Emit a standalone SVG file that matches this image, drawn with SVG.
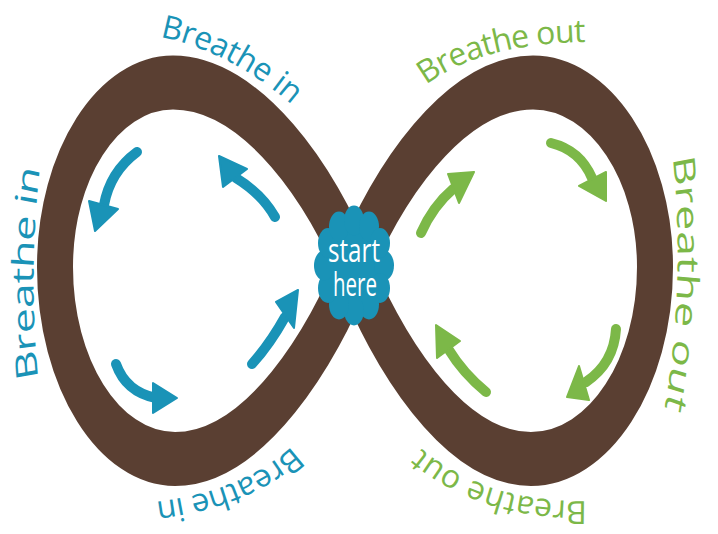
<svg xmlns="http://www.w3.org/2000/svg" xmlns:xlink="http://www.w3.org/1999/xlink" width="718" height="534" viewBox="0 0 718 534">
  <style>
    .band { fill: none; stroke: #5a3f32; stroke-width: 36; stroke-linejoin: round; }
    .cloud { fill: #1a93b7; }
    .lbl { font-family: "Open Sans", "Lato", sans-serif; font-size: 32px; }
    .side { font-family: "Open Sans", "Lato", sans-serif; font-size: 30px; }
    .blue { fill: #1a93b7; }
    .green { fill: #7cb848; }
    .shaft-b { fill: none; stroke: #1a93b7; stroke-width: 10; stroke-linecap: round; }
    .shaft-g { fill: none; stroke: #7cb848; stroke-width: 10; stroke-linecap: round; }
    .head-b { fill: #1a93b7; stroke: #1a93b7; stroke-width: 2; stroke-linejoin: round; }
    .head-g { fill: #7cb848; stroke: #7cb848; stroke-width: 2; stroke-linejoin: round; }
    .start { font-family: "Open Sans", "Lato", sans-serif; font-size: 22px; fill: #ffffff; text-anchor: middle; }
  </style>
  <defs>
    <path id="p-top-left" d="M 160 37 C 200 44, 252 68, 300 112 L 315 126"/>
    <path id="p-top-right" d="M 426 85 C 460 60, 510 42, 594 42 L 614 42"/>
    <path id="p-bot-left" d="M 292 446 C 262 474, 215 496, 146 503 L 126 505"/>
    <path id="p-bot-right" d="M 587 501 C 530 502, 468 490, 416 444 L 401 431"/>
    <path id="p-left" d="M 38 252 Q 28 181.3 40 110.7 L 42 98"/>
    <path id="p-right" d="M 673 105.3 Q 686 193.3 663 278.7 L 660 290"/>
  </defs>

  <g id="band" transform="scale(1,1.5)">
    <path class="band" d="M 354 178 C 384 126, 453 55, 533 55 C 600 55, 655 110, 655 178 C 655 249, 599 306, 531 306 C 451 306, 384 230, 354 178 C 324 126, 253 55, 173 55 C 108 55, 55 110, 55 178 C 55 249, 109 306, 175 306 C 255 306, 324 230, 354 178 Z"/>
  </g>

  <g id="start-here" transform="scale(1,1.5)">
    <circle class="cloud" cx="354" cy="177" r="32"/>
    <circle class="cloud" cx="384" cy="177" r="10"/>
    <circle class="cloud" cx="380" cy="192" r="10"/>
    <circle class="cloud" cx="369" cy="203" r="10"/>
    <circle class="cloud" cx="354" cy="207" r="10"/>
    <circle class="cloud" cx="339" cy="203" r="10"/>
    <circle class="cloud" cx="328" cy="192" r="10"/>
    <circle class="cloud" cx="324" cy="177" r="10"/>
    <circle class="cloud" cx="328" cy="162" r="10"/>
    <circle class="cloud" cx="339" cy="151" r="10"/>
    <circle class="cloud" cx="354" cy="147" r="10"/>
    <circle class="cloud" cx="369" cy="151" r="10"/>
    <circle class="cloud" cx="380" cy="162" r="10"/>
    <text class="start" x="354" y="174.5" textLength="52" lengthAdjust="spacingAndGlyphs">start</text>
    <text class="start" x="355" y="197.5" textLength="44" lengthAdjust="spacingAndGlyphs">here</text>
  </g>

  <g id="arrows-in">
    <path class="shaft-b" d="M 137 152 Q 110 172 104 205"/>
    <polygon class="head-b" points="95,231 89,201 118,209"/>
    <path class="shaft-b" d="M 275 217 Q 262 194 236 178"/>
    <polygon class="head-b" points="219,156 247,169 223,187"/>
    <path class="shaft-b" d="M 116 364 Q 126 392 156 398"/>
    <polygon class="head-b" points="177,398 153,383 153,413"/>
    <path class="shaft-b" d="M 252 364 Q 270 344 285 317"/>
    <polygon class="head-b" points="298,290 276,302 294,328"/>
  </g>

  <g id="arrows-out">
    <path class="shaft-g" d="M 421 233 Q 433 206 453 189"/>
    <polygon class="head-g" points="474,172 448,174 459,203"/>
    <path class="shaft-g" d="M 551 143 Q 580 150 592 178"/>
    <polygon class="head-g" points="606,201 606,172 579,186"/>
    <path class="shaft-g" d="M 616 329 Q 614 363 586 382"/>
    <polygon class="head-g" points="567,397 589,400 579,366"/>
    <path class="shaft-g" d="M 486 392 Q 463 373 449 350"/>
    <polygon class="head-g" points="436,325 437,358 460,341"/>
  </g>

  <g id="labels-in">
    <text class="lbl blue"><textPath xlink:href="#p-top-left" href="#p-top-left" textLength="150" lengthAdjust="spacing">Breathe in</textPath></text>
    <text class="lbl blue"><textPath xlink:href="#p-bot-left" href="#p-bot-left" textLength="150" lengthAdjust="spacing">Breathe in</textPath></text>
    <g transform="scale(1,1.5)">
      <text class="side blue"><textPath xlink:href="#p-left" href="#p-left" textLength="140" lengthAdjust="spacing">Breathe in</textPath></text>
    </g>
  </g>

  <g id="labels-out">
    <text class="lbl green"><textPath xlink:href="#p-top-right" href="#p-top-right" textLength="168" lengthAdjust="spacing">Breathe out</textPath></text>
    <text class="lbl green"><textPath xlink:href="#p-bot-right" href="#p-bot-right" textLength="178" lengthAdjust="spacing">Breathe out</textPath></text>
    <g transform="scale(1,1.5)">
      <text class="side green"><textPath xlink:href="#p-right" href="#p-right" textLength="168" lengthAdjust="spacing">Breathe out</textPath></text>
    </g>
  </g>
</svg>
